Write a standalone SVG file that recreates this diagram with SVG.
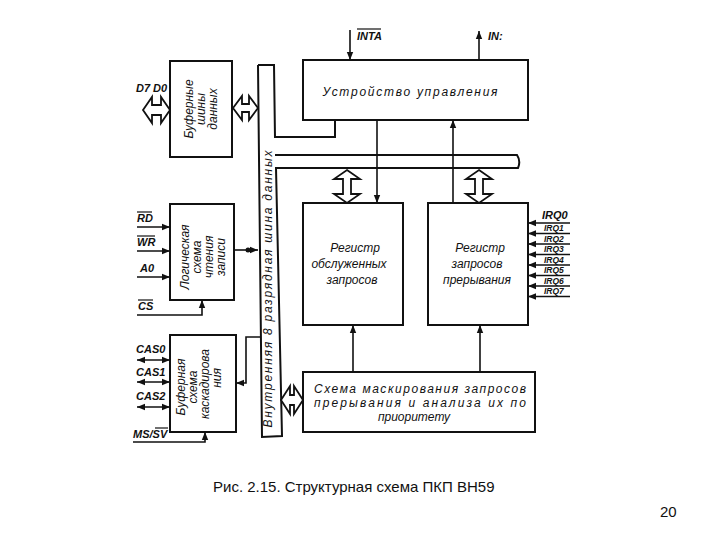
<svg xmlns="http://www.w3.org/2000/svg" width="720" height="540" viewBox="0 0 720 540">
<style>
.box{fill:#fff;stroke:#111;stroke-width:2}
.ln{fill:none;stroke:#111;stroke-width:1.6}
.bus{fill:#fff;stroke:#111;stroke-width:2;stroke-linejoin:miter}
.dbl{fill:#fff;stroke:#111;stroke-width:1.8;stroke-linejoin:miter}
.t{font-family:"Liberation Sans",Arial,sans-serif;font-style:italic;font-size:12px;fill:#111}
.lb{font-family:"Liberation Sans",Arial,sans-serif;font-style:italic;font-weight:bold;font-size:11px;fill:#111}
.irq{font-family:"Liberation Sans",Arial,sans-serif;font-style:italic;font-weight:bold;font-size:8.5px;fill:#111}
.cap{font-family:"Liberation Sans",Arial,sans-serif;font-size:15px;fill:#111}
.ov{stroke:#111;stroke-width:1.2}
</style>
<defs>
<marker id="ah" viewBox="0 0 10 10" refX="10" refY="5" markerUnits="userSpaceOnUse" markerWidth="8" markerHeight="8" orient="auto-start-reverse">
<path d="M0,1 L10,5 L0,9 z" fill="#111"/>
</marker>
</defs>
<rect width="720" height="540" fill="#fff"/>

<g id="internal-bus">
<path class="bus" d="M258,65 L274,65 L275,137 L335,137 L335,120 M275,155 L517,155 Q521,161 518,168 L276,168 L282,436 L262,437 L258,65"/>
<text class="t" transform="translate(272,289) rotate(-90)" text-anchor="middle" textLength="277" lengthAdjust="spacing">Внутренняя  8  разрядная  шина  данных</text>
</g>

<g id="control-unit">
<rect class="box" x="303" y="60" width="225" height="60"/>
<text class="t" x="410" y="96" text-anchor="middle" font-size="13" textLength="175" lengthAdjust="spacing">Устройство   управления</text>
</g>

<g id="data-buffer">
<rect class="box" x="170" y="61" width="62" height="96"/>
<text class="t" transform="translate(193,109) rotate(-90)" text-anchor="middle">Буферные</text>
<text class="t" transform="translate(205,109) rotate(-90)" text-anchor="middle">шины</text>
<text class="t" transform="translate(217,109) rotate(-90)" text-anchor="middle">данных</text>
</g>

<g id="rw-logic">
<rect class="box" x="170" y="204" width="64" height="96"/>
<text class="t" transform="translate(189,257) rotate(-90)" text-anchor="middle" font-size="11">Логическая</text>
<text class="t" transform="translate(201,257) rotate(-90)" text-anchor="middle" font-size="11">схема</text>
<text class="t" transform="translate(213,257) rotate(-90)" text-anchor="middle" font-size="11">чтения</text>
<text class="t" transform="translate(225,257) rotate(-90)" text-anchor="middle" font-size="11">записи</text>
</g>

<g id="cascade-buffer">
<rect class="box" x="170" y="335" width="66" height="97"/>
<text class="t" transform="translate(185,387) rotate(-90)" text-anchor="middle" font-size="11">Буферная</text>
<text class="t" transform="translate(197,387) rotate(-90)" text-anchor="middle" font-size="11">схема</text>
<text class="t" transform="translate(209,384) rotate(-90)" text-anchor="middle" font-size="11">каскадирова</text>
<text class="t" transform="translate(221,378) rotate(-90)" text-anchor="middle" font-size="11">ния</text>
</g>

<g id="isr">
<rect class="box" x="303" y="203" width="100" height="122"/>
<text class="t" x="355" y="252" text-anchor="middle">Регистр</text>
<text class="t" x="349" y="268" text-anchor="middle">обслуженных</text>
<text class="t" x="352" y="284" text-anchor="middle">запросов</text>
</g>

<g id="irr">
<rect class="box" x="428" y="203" width="100" height="122"/>
<text class="t" x="480" y="252" text-anchor="middle">Регистр</text>
<text class="t" x="477" y="268" text-anchor="middle">запросов</text>
<text class="t" x="477" y="284" text-anchor="middle">прерывания</text>
</g>

<g id="mask-priority">
<rect class="box" x="303" y="372" width="232" height="60"/>
<text class="t" x="420" y="393" text-anchor="middle" textLength="212" lengthAdjust="spacing">Схема  маскирования  запросов</text>
<text class="t" x="420" y="407" text-anchor="middle" textLength="212" lengthAdjust="spacing">прерывания  и  анализа  их  по</text>
<text class="t" x="414" y="421" text-anchor="middle">приоритету</text>
</g>

<g id="labels">
<text class="lb" x="136" y="92">D7 D0</text>
<text class="lb" x="357" y="40">INTA</text>
<line class="ov" x1="357" y1="29" x2="381" y2="29"/>
<text class="lb" x="488" y="40">IN:</text>
<text class="lb" x="137" y="222">RD</text>
<line class="ov" x1="137" y1="212" x2="152" y2="212"/>
<text class="lb" x="137" y="246">WR</text>
<line class="ov" x1="137" y1="236" x2="155" y2="236"/>
<text class="lb" x="140" y="272">A0</text>
<text class="lb" x="138" y="310">CS</text>
<line class="ov" x1="138" y1="300" x2="153" y2="300"/>
<text class="lb" x="136" y="353">CAS0</text>
<text class="lb" x="136" y="376">CAS1</text>
<text class="lb" x="136" y="400">CAS2</text>
<text class="lb" x="133" y="438">MS/SV</text>
<line class="ov" x1="155" y1="428" x2="168" y2="428"/>
<text class="lb" x="542" y="219">IRQ0</text>
<text class="irq" x="544" y="231">IRQ1</text>
<text class="irq" x="544" y="241.5">IRQ2</text>
<text class="irq" x="544" y="252">IRQ3</text>
<text class="irq" x="544" y="262.5">IRQ4</text>
<text class="irq" x="544" y="273">IRQ5</text>
<text class="irq" x="544" y="283.5">IRQ6</text>
<text class="irq" x="544" y="294">IRQ7</text>
</g>

<g id="connectors">
<path class="dbl" d="M143,110 L152,97 L152,105 L161,105 L161,97 L170,110 L161,123 L161,115 L152,115 L152,123 Z"/>
<path class="dbl" d="M233,108 L242,96 L242,104 L249,104 L249,96 L258,108 L249,120 L249,112 L242,112 L242,120 Z"/>
<path class="dbl" d="M281,400 L290,386 L290,395 L294,395 L294,386 L303,400 L294,414 L294,405 L290,405 L290,414 Z"/>
<path class="dbl" d="M347,170 L360,179 L351,179 L351,194 L360,194 L347,203 L334,194 L343,194 L343,179 L334,179 Z"/>
<path class="dbl" d="M479,170 L492,179 L483,179 L483,194 L492,194 L479,203 L466,194 L475,194 L475,179 L466,179 Z"/>
<line class="ln" x1="350" y1="30" x2="350" y2="60" marker-end="url(#ah)"/>
<line class="ln" x1="479" y1="60" x2="479" y2="31" marker-end="url(#ah)"/>
<line class="ln" x1="377" y1="120" x2="377" y2="203" marker-end="url(#ah)"/>
<line class="ln" x1="453" y1="203" x2="453" y2="120" marker-end="url(#ah)"/>
<line class="ln" x1="353" y1="372" x2="353" y2="325" marker-end="url(#ah)"/>
<line class="ln" x1="480" y1="372" x2="480" y2="325" marker-end="url(#ah)"/>
<line class="ln" x1="137" y1="227" x2="170" y2="227" marker-end="url(#ah)"/>
<line class="ln" x1="137" y1="251" x2="170" y2="251" marker-end="url(#ah)"/>
<line class="ln" x1="137" y1="277" x2="170" y2="277" marker-end="url(#ah)"/>
<path class="ln" d="M137,315 H202 V300" marker-end="url(#ah)"/>
<line class="ln" x1="234" y1="250" x2="258" y2="250" marker-end="url(#ah)"/>
<circle cx="248" cy="250" r="2.5" fill="#111"/>
<line class="ln" x1="137" y1="360" x2="170" y2="360" marker-start="url(#ah)" marker-end="url(#ah)"/>
<line class="ln" x1="137" y1="382" x2="170" y2="382" marker-start="url(#ah)" marker-end="url(#ah)"/>
<line class="ln" x1="137" y1="407" x2="170" y2="407" marker-start="url(#ah)" marker-end="url(#ah)"/>
<path class="ln" d="M133,442 H205 V432" marker-end="url(#ah)"/>
<path class="ln" d="M261,337 H246 V383 H236" marker-end="url(#ah)"/>
<line class="ln" x1="570" y1="223" x2="528" y2="223" marker-end="url(#ah)"/>
<line class="ln" x1="570" y1="233.5" x2="528" y2="233.5" marker-end="url(#ah)"/>
<line class="ln" x1="570" y1="244" x2="528" y2="244" marker-end="url(#ah)"/>
<line class="ln" x1="570" y1="254.5" x2="528" y2="254.5" marker-end="url(#ah)"/>
<line class="ln" x1="570" y1="265" x2="528" y2="265" marker-end="url(#ah)"/>
<line class="ln" x1="570" y1="275.5" x2="528" y2="275.5" marker-end="url(#ah)"/>
<line class="ln" x1="570" y1="286" x2="528" y2="286" marker-end="url(#ah)"/>
<line class="ln" x1="570" y1="296.5" x2="528" y2="296.5" marker-end="url(#ah)"/>
</g>

<text class="cap" x="213" y="492">Рис. 2.15. Структурная схема ПКП ВН59</text>
<text class="cap" x="660" y="517" font-size="13">20</text>
</svg>
